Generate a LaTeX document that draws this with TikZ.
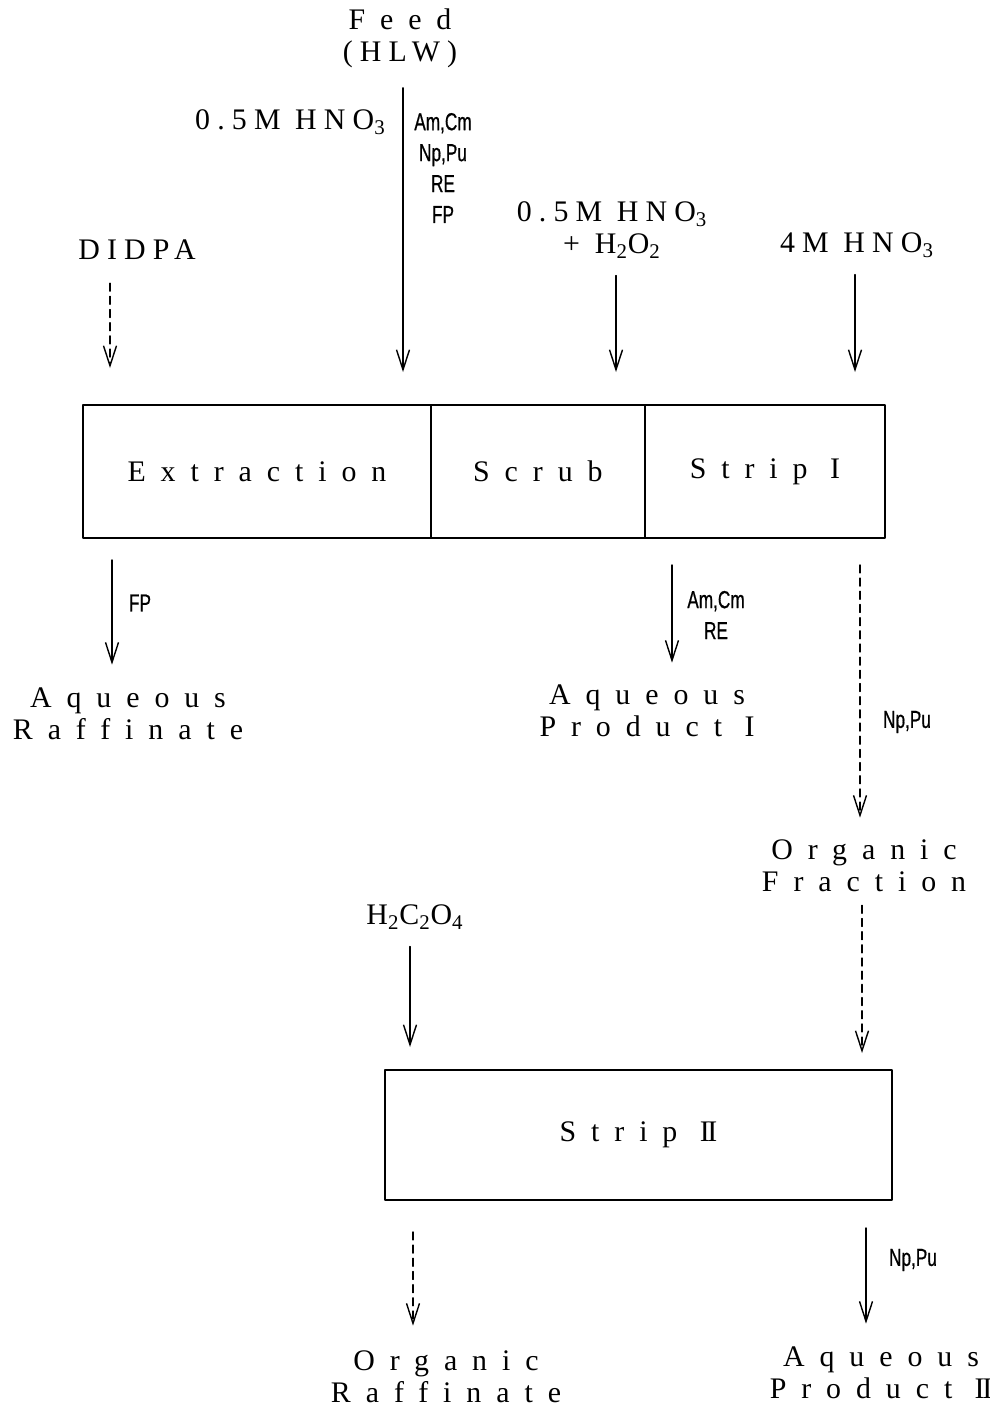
\documentclass[tikz,border=0pt]{standalone}
\usepackage{fontspec}
\setmainfont{Liberation Serif}
\newfontfamily\tagfont{Liberation Sans}[FakeStretch=0.7,FakeBold=0.6]
\usetikzlibrary{arrows.meta,positioning}
\newcommand\wide{\fontsize{17}{18.2}\selectfont\addfontfeature{LetterSpace=50}}
\newcommand\snug{\addfontfeature{LetterSpace=24}}
\newcommand\two{{\addfontfeature{LetterSpace=0}I\kern-0.08em I}}
\tikzset{
  flow/.style={-{Straight Barb[length=4mm,width=2.6mm]},line width=0.8pt},
  orgflow/.style={flow,dash pattern=on 4.5pt off 3pt},
  stage/.style={draw,line width=1pt,inner sep=0pt,outer sep=0pt,font=\wide},
  stream/.style={font=\wide,align=center,inner sep=0pt},
  tag/.style={font=\tagfont\fontsize{14}{17.6}\selectfont,align=center,inner sep=0pt}
}

\begin{document}
\begin{tikzpicture}[x=0.02cm,y=-0.02cm,line cap=round,line join=round]
  \useasboundingbox (0,0) rectangle (990,1409);
  % feeds
  \node[stream] (feed) at (400,38) {Feed\\{\snug(HLW)}};
  \node[stream,anchor=east,font=\wide\snug] (acid) at (386,122) {0.5M HNO\textsubscript{3}};
  \node[tag] (feedtag) at (443,168) {Am,Cm\\Np,Pu\\RE\\FP};
  \node[stream,font=\wide\snug] (didpa) at (137,250) {DIDPA};
  \node[stream] (scrubin) at (612,230) {{\snug0.5M HNO\textsubscript{3}}\\+H\textsubscript{2}O\textsubscript{2}};
  \node[stream,font=\wide\snug] (stripin) at (857,245) {4M HNO\textsubscript{3}};
  % first contactor
  \node[stage,minimum width=6.96cm,minimum height=2.66cm,anchor=north west] (extr) at (83,405) {Extraction};
  \node[stage,minimum width=4.28cm,minimum height=2.66cm,right=0pt of extr] (scrub) {Scrub};
  \node[stage,minimum width=4.8cm,minimum height=2.66cm,right=0pt of scrub] (strip1) {Strip I};
  % products
  \node[stream] (aqraff) at (128,714) {Aqueous\\Raffinate};
  \node[tag] (fptag) at (140,603) {FP};
  \node[stream] (aqprod1) at (647,711) {Aqueous\\Product I};
  \node[tag] (amtag) at (716,615) {Am,Cm\\RE};
  \node[stream] (orgfrac) at (864,866) {Organic\\Fraction};
  \node[tag] (nptag1) at (907,722) {Np,Pu};
  \node[stream] (oxal) at (415,917) {H\textsubscript{2}C\textsubscript{2}O\textsubscript{4}};
  % second contactor
  \node[stage,minimum width=10.14cm,minimum height=2.6cm,anchor=north west] (strip2) at (385,1070) {Strip \two};
  \node[stream] (orgraff) at (446,1377) {Organic\\Raffinate};
  \node[stream] (aqprod2) at (881,1373) {Aqueous\\Product \two};
  \node[tag] (nptag2) at (913,1260) {Np,Pu};
  % arrow columns
  \foreach \n/\x in {feed/403,didpa/110,scrubin/616,stripin/855,aqraff/112,aqprod1/672,orgfrac/860,frac/862,oxal/410,orgraff/413,aqprod2/866}
    \coordinate (x\n) at (\x,0);
  \foreach \c/\from/\to/\a/\b/\s in {feed/feed/extr/0.4/0.66/flow,didpa/didpa/extr/0.46/0.74/orgflow,
      scrubin/scrubin/strip1/0.34/0.66/flow,stripin/stripin/strip1/0.34/0.66/flow,
      frac/orgfrac/strip2/0.26/0.34/orgflow,oxal/oxal/strip2/0.34/0.46/flow}
    \draw[\s,shorten <=\a cm,shorten >=\b cm] (x\c |- \from.south) -- (x\c |- \to.north);
  \foreach \c/\from/\to/\a/\b/\s in {aqraff/extr/aqraff/0.44/0.46/flow,aqprod1/strip1/aqprod1/0.54/0.44/flow,
      orgfrac/strip1/orgfrac/0.54/0.44/orgflow,orgraff/strip2/orgraff/0.64/0.5/orgflow,
      aqprod2/strip2/aqprod2/0.56/0.46/flow}
    \draw[\s,shorten <=\a cm,shorten >=\b cm] (x\c |- \from.south) -- (x\c |- \to.north);
\end{tikzpicture}
\end{document}
